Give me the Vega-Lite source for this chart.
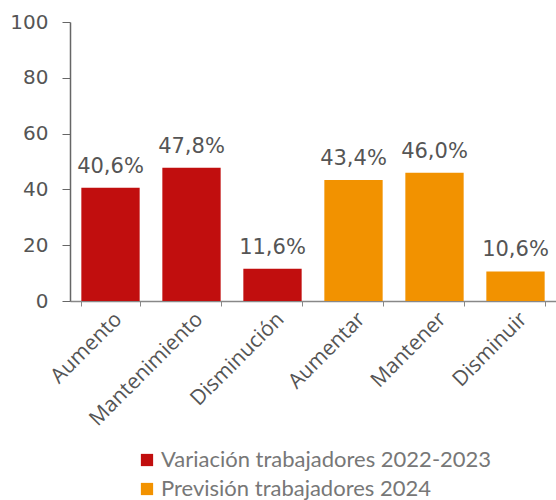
{
  "$schema": "https://vega.github.io/schema/vega-lite/v6.json",
  "width": 486,
  "height": 279,
  "autosize": {"type": "none"},
  "padding": {"left": 70, "top": 22, "right": 0, "bottom": 199},
  "background": "white",
  "data": {
    "values": [
      {"cat": "Aumento", "value": 40.6, "label": "40,6%", "serie": "Variación trabajadores 2022-2023"},
      {"cat": "Mantenimiento", "value": 47.8, "label": "47,8%", "serie": "Variación trabajadores 2022-2023"},
      {"cat": "Disminución", "value": 11.6, "label": "11,6%", "serie": "Variación trabajadores 2022-2023"},
      {"cat": "Aumentar", "value": 43.4, "label": "43,4%", "serie": "Previsión trabajadores 2024"},
      {"cat": "Mantener", "value": 46.0, "label": "46,0%", "serie": "Previsión trabajadores 2024"},
      {"cat": "Disminuir", "value": 10.6, "label": "10,6%", "serie": "Previsión trabajadores 2024"}
    ]
  },
  "config": {
    "view": {"stroke": null},
    "font": "Lato"
  },
  "encoding": {
    "x": {
      "field": "cat",
      "type": "nominal",
      "sort": null,
      "title": null,
      "scale": {"paddingInner": 0.28, "paddingOuter": 0.14},
      "axis": {
        "labelAngle": -45,
        "labelFont": "Open Sans",
        "labelFontSize": 21,
        "labelColor": "#555555",
        "domainColor": "#888888",
        "domainWidth": 1.5,
        "tickColor": "#888888",
        "tickBand": "extent",
        "tickSize": 5,
        "labelPadding": 2,
        "labelDx": -3,
        "labelDy": -6
      }
    },
    "y": {
      "field": "value",
      "type": "quantitative",
      "title": null,
      "scale": {"domain": [0, 100]},
      "axis": {
        "values": [0, 20, 40, 60, 80, 100],
        "grid": false,
        "labelFont": "DejaVu Sans",
        "labelFontSize": 20,
        "labelColor": "#555555",
        "domainColor": "#666666",
        "domainWidth": 1.5,
        "tickColor": "#666666",
        "tickSize": 8,
        "labelPadding": 14
      }
    }
  },
  "layer": [
    {
      "mark": {"type": "bar"},
      "encoding": {
        "color": {
          "field": "serie",
          "type": "nominal",
          "scale": {
            "domain": ["Variación trabajadores 2022-2023", "Previsión trabajadores 2024"],
            "range": ["#C10E0E", "#F29200"]
          },
          "legend": {
            "title": null,
            "orient": "none",
            "legendX": 66,
            "legendY": 427,
            "symbolType": "square",
            "symbolSize": 150,
            "symbolStrokeWidth": 0,
            "symbolOpacity": 1,
            "labelFont": "Lato",
            "labelFontSize": 22,
            "labelColor": "#777777",
            "labelOffset": 3,
            "rowPadding": 7,
            "labelLimit": 500
          }
        }
      }
    },
    {
      "mark": {"type": "text", "baseline": "alphabetic", "dy": -15, "font": "DejaVu Sans", "fontSize": 21, "color": "#555555"},
      "encoding": {
        "text": {"field": "label"}
      }
    }
  ]
}
